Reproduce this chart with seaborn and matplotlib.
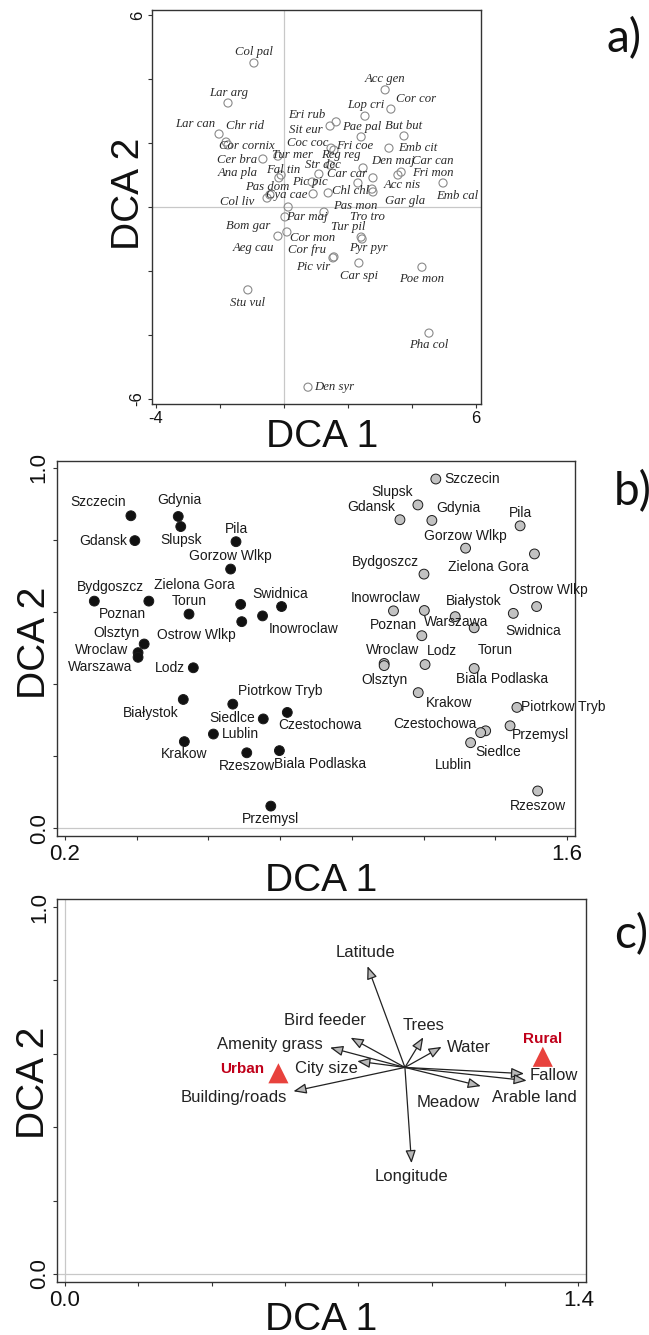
"""
DCA ordination figure: a) bird species, b) urban / rural city plots, c) habitat vectors
"""

import matplotlib
matplotlib.use("Agg")
import numpy as np
import pandas as pd
import matplotlib.pyplot as plt
import seaborn as sns

# ---------------------------------------------------------------
# a) species scores
# ---------------------------------------------------------------
SPECIES = ["Col pal", "Lar arg", "Lar can", "Chr rid", "Cor cornix", "Cer bra", "Tur mer",
           "Ana pla", "Fal tin", "Pas dom", "Col liv", "Cya cae", "Pic pic", "Eri rub",
           "Sit eur", "Coc coc", "Fri coe", "Reg reg", "Str dec", "Car car", "Chl chl",
           "Pae pal", "Lop cri", "Acc gen", "Cor cor", "But but", "Emb cit", "Den maj",
           "Car can", "Fri mon", "Acc nis", "Emb cal", "Gar gla", "Pas mon", "Tro tro",
           "Par maj", "Tur pil", "Bom gar", "Cor mon", "Aeg cau", "Cor fru", "Pyr pyr",
           "Pic vir", "Car spi", "Poe mon", "Pha col", "Stu vul", "Den syr"]
SPECIES_DCA1 = [-0.94, -1.75, -2.03, -1.81, -1.75, -0.66, -0.19,
                -0.16, -0.09, -0.44, -0.53, 0.91, 0.88, 1.63,
                1.44, 1.47, 1.56, 1.44, 1.09, 2.78, 2.75,
                2.41, 2.53, 3.16, 3.34, 3.75, 3.28, 2.47,
                3.66, 3.56, 2.31, 4.97, 2.78, 1.38, 1.25,
                0.13, 2.41, 0.03, 0.09, -0.19, 1.56, 2.44,
                1.53, 2.34, 4.31, 4.53, -1.13, 0.75]
SPECIES_DCA2 = [4.50, 3.25, 2.28, 2.03, 1.94, 1.50, 1.59,
                0.91, 1.00, 0.38, 0.28, 0.41, 0.78, 2.66,
                2.53, 1.84, 1.78, 1.31, 1.03, 0.91, 0.56,
                2.19, 2.84, 3.66, 3.06, 2.22, 1.84, 1.22,
                1.09, 1.00, 0.75, 0.75, 0.47, 0.44, -0.16,
                0.00, -0.94, -0.31, -0.78, -0.91, -1.56, -1.00,
                -1.59, -1.75, -1.88, -3.94, -2.59, -5.63]

# ---------------------------------------------------------------
# b) city plots (urban = black, rural = grey)
# ---------------------------------------------------------------
URBAN_CITIES = ["Szczecin", "Gdynia", "Slupsk", "Gdansk", "Pila", "Gorzow Wlkp", "Bydgoszcz",
                "Poznan", "Zielona Gora", "Torun", "Swidnica", "Inowroclaw", "Ostrow Wlkp",
                "Olsztyn", "Wroclaw", "Warszawa", "Lodz", "Białystok", "Piotrkow Tryb",
                "Czestochowa", "Siedlce", "Lublin", "Krakow", "Rzeszow", "Biala Podlaska",
                "Przemysl"]
URBAN_DCA1 = [0.384, 0.516, 0.523, 0.395, 0.677, 0.662, 0.282,
              0.434, 0.690, 0.546, 0.804, 0.751, 0.693,
              0.421, 0.404, 0.404, 0.558, 0.530, 0.668,
              0.820, 0.753, 0.614, 0.533, 0.707, 0.798,
              0.774]
URBAN_DCA2 = [0.867, 0.865, 0.837, 0.798, 0.795, 0.719, 0.630,
              0.630, 0.621, 0.594, 0.615, 0.589, 0.573,
              0.511, 0.487, 0.474, 0.445, 0.357, 0.344,
              0.321, 0.303, 0.261, 0.240, 0.209, 0.215,
              0.061]

RURAL_CITIES = ["Szczecin", "Slupsk", "Gdansk", "Gdynia", "Pila", "Gorzow Wlkp", "Zielona Gora",
                "Bydgoszcz", "Ostrow Wlkp", "Swidnica", "Inowroclaw", "Warszawa", "Białystok",
                "Torun", "Poznan", "Wroclaw", "Olsztyn", "Lodz", "Biala Podlaska", "Krakow",
                "Piotrkow Tryb", "Przemysl", "Czestochowa", "Lublin", "Siedlce", "Rzeszow"]
RURAL_DCA1 = [1.234, 1.184, 1.134, 1.223, 1.469, 1.317, 1.509,
              1.201, 1.515, 1.450, 1.116, 1.202, 1.288,
              1.341, 1.195, 1.090, 1.090, 1.204, 1.341, 1.185,
              1.460, 1.441, 1.373, 1.359, 1.331, 1.518]
RURAL_DCA2 = [0.969, 0.897, 0.856, 0.854, 0.839, 0.777, 0.761,
              0.705, 0.615, 0.596, 0.603, 0.604, 0.587,
              0.556, 0.534, 0.457, 0.451, 0.454, 0.443, 0.376,
              0.335, 0.284, 0.270, 0.265, 0.237, 0.103]

# ---------------------------------------------------------------
# c) environmental vectors and group centroids
# ---------------------------------------------------------------
ENV_VARS = ["Latitude", "Bird feeder", "Amenity grass", "City size", "Building/roads",
            "Trees", "Water", "Fallow", "Arable land", "Meadow", "Longitude"]
ENV_DCA1 = [0.825, 0.779, 0.723, 0.797, 0.623, 0.977, 1.027, 1.252, 1.259, 1.134, 0.945]
ENV_DCA2 = [0.839, 0.644, 0.617, 0.580, 0.498, 0.645, 0.619, 0.546, 0.527, 0.512, 0.302]
ENV_ORIGIN = (0.927, 0.563)

GROUPS = ["Urban", "Rural"]
GROUP_DCA1 = [0.582, 1.303]
GROUP_DCA2 = [0.547, 0.592]


# label placement (pixel offsets from the point, y up)
A_LABEL_OFFSET = {
    "Col pal": (0, 11), "Lar arg": (1, 10), "Lar can": (-24, 10), "Chr rid": (19, 16),
    "Cor cornix": (19, -1), "Cer bra": (-26, -1), "Tur mer": (15, 1), "Ana pla": (-41, 5),
    "Fal tin": (2, 5), "Pas dom": (-3, 8), "Col liv": (-30, -4), "Cya cae": (-26, -1),
    "Pic pic": (-2, 0), "Eri rub": (-29, 7), "Sit eur": (-24, -4), "Coc coc": (-23, 5),
    "Fri coe": (21, 4), "Reg reg": (11, 10), "Str dec": (4, 9), "Car car": (-26, 4),
    "Chl chl": (-21, -2), "Pae pal": (1, 10), "Lop cri": (1, 11), "Acc gen": (0, 11),
    "Cor cor": (25, 10), "But but": (0, 10), "Emb cit": (29, 0), "Den maj": (30, 7),
    "Car can": (32, 11), "Fri mon": (35, 2), "Acc nis": (44, -2), "Emb cal": (14, -13),
    "Gar gla": (32, -9), "Pas mon": (27, -13), "Tro tro": (43, -5), "Par maj": (19, -10),
    "Tur pil": (-13, 10), "Bom gar": (-37, -9), "Cor mon": (26, -6), "Aeg cau": (-25, -12),
    "Cor fru": (-27, 7), "Pyr pyr": (6, -9), "Pic vir": (-20, -9), "Car spi": (0, -13),
    "Poe mon": (0, -12), "Pha col": (0, -12), "Stu vul": (0, -13), "Den syr": (26, 0),
}
B_LABEL_OFFSET = {
    ("Urban", "Szczecin"): (-33, 14), ("Urban", "Gdynia"): (1, 16), ("Urban", "Slupsk"): (0, -13),
    ("Urban", "Gdansk"): (-32, 0), ("Urban", "Pila"): (0, 13), ("Urban", "Gorzow Wlkp"): (0, 13),
    ("Urban", "Bydgoszcz"): (16, 14), ("Urban", "Poznan"): (-26, -13),
    ("Urban", "Zielona Gora"): (-46, 19), ("Urban", "Torun"): (0, 13),
    ("Urban", "Swidnica"): (-1, 13), ("Urban", "Inowroclaw"): (41, -13),
    ("Urban", "Ostrow Wlkp"): (-45, -13), ("Urban", "Olsztyn"): (-28, 11),
    ("Urban", "Wroclaw"): (-37, 3), ("Urban", "Warszawa"): (-38, -10), ("Urban", "Lodz"): (-23, 0),
    ("Urban", "Białystok"): (-33, -14), ("Urban", "Piotrkow Tryb"): (47, 13),
    ("Urban", "Czestochowa"): (33, -13), ("Urban", "Siedlce"): (-31, 1), ("Urban", "Lublin"): (27, 0),
    ("Urban", "Krakow"): (0, -12), ("Urban", "Rzeszow"): (0, -13),
    ("Urban", "Biala Podlaska"): (41, -13), ("Urban", "Przemysl"): (0, -13),
    ("Rural", "Szczecin"): (36, 0), ("Rural", "Slupsk"): (-26, 13), ("Rural", "Gdansk"): (-29, 13),
    ("Rural", "Gdynia"): (27, 12), ("Rural", "Pila"): (0, 13), ("Rural", "Gorzow Wlkp"): (0, 12),
    ("Rural", "Zielona Gora"): (-46, -13), ("Rural", "Bydgoszcz"): (-39, 12),
    ("Rural", "Ostrow Wlkp"): (12, 17), ("Rural", "Swidnica"): (20, -18),
    ("Rural", "Inowroclaw"): (-8, 13), ("Rural", "Warszawa"): (32, -12),
    ("Rural", "Białystok"): (19, 16), ("Rural", "Torun"): (21, -22), ("Rural", "Poznan"): (-28, 11),
    ("Rural", "Wroclaw"): (8, 13), ("Rural", "Olsztyn"): (0, -14), ("Rural", "Lodz"): (17, 14),
    ("Rural", "Biala Podlaska"): (28, -11), ("Rural", "Krakow"): (31, -10),
    ("Rural", "Piotrkow Tryb"): (46, 0), ("Rural", "Przemysl"): (30, -9),
    ("Rural", "Czestochowa"): (-51, 7), ("Rural", "Lublin"): (-27, -32),
    ("Rural", "Siedlce"): (28, -9), ("Rural", "Rzeszow"): (0, -15),
}
C_LABEL_OFFSET = {
    "Latitude": (-2, 14), "Bird feeder": (-26, 17), "Amenity grass": (-60, 3),
    "City size": (-31, -7), "Building/roads": (-60, -6), "Trees": (0, 12), "Water": (27, -1),
    "Fallow": (30, -2), "Arable land": (8, -17), "Meadow": (-33, -16), "Longitude": (0, -13),
}
C_GROUP_OFFSET = {"Urban": (-36, 4), "Rural": (0, 18)}

W, H = 649, 1335
SPINE = "#333333"
ZERO_LINE = "#c8c8c8"


def ax_rect(left, top, right, bottom):
    """pixel box -> figure fraction rect"""
    return [left / W, 1 - bottom / H, (right - left) / W, (bottom - top) / H]


def style_axes(ax, xticks, xlabels, yticks, ylabels, tick_size, pad_x, pad_y):
    for sp in ax.spines.values():
        sp.set_visible(True)
        sp.set_color(SPINE)
        sp.set_linewidth(1.0)
    ax.set_xticks(xticks, xlabels)
    ax.set_yticks(yticks, ylabels, rotation=90, va="center")
    ax.tick_params(axis="both", direction="out", length=2.8, width=0.8, color=SPINE,
                   labelsize=tick_size, labelcolor="#111111")
    ax.tick_params(axis="x", pad=pad_x, bottom=True)
    ax.tick_params(axis="y", pad=pad_y, left=True)
    ax.grid(False)


def set_dca_labels(ax, xpos, ypos):
    ax.set_xlabel("DCA 1", fontsize=28, va="center", color="#111111")
    ax.set_ylabel("DCA 2", fontsize=28, va="center", color="#111111")
    ax.xaxis.set_label_coords(*xpos)
    ax.yaxis.set_label_coords(*ypos)


sns.set_theme(style="white")
plt.rcParams["font.family"] = ["Liberation Sans", "DejaVu Sans"]

fig = plt.figure(figsize=(W / 100, H / 100), dpi=100)

# ---------------- a) ----------------
ax_a = fig.add_axes(ax_rect(152, 10, 481, 404))
df_a = pd.DataFrame({"species": SPECIES, "DCA1": SPECIES_DCA1, "DCA2": SPECIES_DCA2})
ax_a.axhline(0, color=ZERO_LINE, lw=0.9, zorder=0)
ax_a.axvline(0, color=ZERO_LINE, lw=0.9, zorder=0)
sns.scatterplot(data=df_a, x="DCA1", y="DCA2", s=34, color="#888888", ax=ax_a, legend=False)
pts = ax_a.collections[-1]
pts.set_facecolor("none")
pts.set_edgecolor("#8a8a8a")
pts.set_linewidth(0.8)
for _, r in df_a.iterrows():
    ax_a.annotate(r["species"], (r["DCA1"], r["DCA2"]), xytext=A_LABEL_OFFSET[r["species"]],
                  textcoords="offset pixels", ha="center", va="center", fontsize=9.2,
                  family=["Liberation Serif", "DejaVu Serif"], style="italic", color="#2a2a2a")
ax_a.set_xlim(-4.125, 6.156)
ax_a.set_ylim(-6.156, 6.156)
style_axes(ax_a, [-4, -2, 0, 2, 4, 6], ["-4", "", "", "", "", "6"],
           [-6, -4, -2, 0, 2, 4, 6], ["-6", "", "", "", "", "", "6"], 12, 2.5, 2.5)
set_dca_labels(ax_a, (0.516, -0.083), (-0.070, 0.534))

# ---------------- b) ----------------
ax_b = fig.add_axes(ax_rect(57, 461, 575, 836))
df_b = pd.concat([
    pd.DataFrame({"site": "Urban", "city": URBAN_CITIES, "DCA1": URBAN_DCA1, "DCA2": URBAN_DCA2}),
    pd.DataFrame({"site": "Rural", "city": RURAL_CITIES, "DCA1": RURAL_DCA1, "DCA2": RURAL_DCA2}),
], ignore_index=True)
ax_b.axhline(0, color=ZERO_LINE, lw=0.9, zorder=0)
sns.scatterplot(data=df_b, x="DCA1", y="DCA2", hue="site",
                palette={"Urban": "#111111", "Rural": "#c2c2c2"},
                edgecolor="#1a1a1a", linewidth=0.7, s=50, legend=False, ax=ax_b, zorder=3)
for _, r in df_b.iterrows():
    ax_b.annotate(r["city"], (r["DCA1"], r["DCA2"]), xytext=B_LABEL_OFFSET[(r["site"], r["city"])],
                  textcoords="offset pixels", ha="center", va="center", fontsize=10,
                  color="#1a1a1a")
ax_b.set_xlim(0.178, 1.622)
ax_b.set_ylim(-0.022, 1.019)
style_axes(ax_b, np.round(np.arange(0.2, 1.61, 0.2), 1), ["0.2", "", "", "", "", "", "", "1.6"],
           np.round(np.arange(0.0, 1.01, 0.2), 1), ["0.0", "", "", "", "", "1.0"], 16, 3, 2.5)
set_dca_labels(ax_b, (0.51, -0.12), (-0.0425, 0.516))

# ---------------- c) ----------------
ax_c = fig.add_axes(ax_rect(57.3, 899, 585.7, 1281.7))
ax_c.axhline(0, color=ZERO_LINE, lw=0.9, zorder=0)
ax_c.axvline(0, color=ZERO_LINE, lw=0.9, zorder=0)
df_env = pd.DataFrame({"var": ENV_VARS, "DCA1": ENV_DCA1, "DCA2": ENV_DCA2})
for _, r in df_env.iterrows():
    ax_c.annotate("", xy=(r["DCA1"], r["DCA2"]), xytext=ENV_ORIGIN,
                  arrowprops=dict(arrowstyle="-|>,head_length=0.65,head_width=0.26",
                                  ec="#222222", fc="#b8b8b8", lw=0.9,
                                  shrinkA=0, shrinkB=0))
    ax_c.annotate(r["var"], (r["DCA1"], r["DCA2"]), xytext=C_LABEL_OFFSET[r["var"]],
                  textcoords="offset pixels", ha="center", va="center", fontsize=12,
                  color="#222222")
df_grp = pd.DataFrame({"group": GROUPS, "DCA1": GROUP_DCA1, "DCA2": GROUP_DCA2})
sns.scatterplot(data=df_grp, x="DCA1", y="DCA2", marker="^", s=210, color="#e8423d",
                edgecolor="none", legend=False, ax=ax_c, zorder=4)
for _, r in df_grp.iterrows():
    ax_c.annotate(r["group"], (r["DCA1"], r["DCA2"]), xytext=C_GROUP_OFFSET[r["group"]],
                  textcoords="offset pixels", ha="center", va="center", fontsize=11,
                  fontweight="bold", color="#c0001a")
ax_c.set_xlim(-0.021, 1.42)
ax_c.set_ylim(-0.021, 1.022)
style_axes(ax_c, np.round(np.arange(0.0, 1.41, 0.2), 1), ["0.0", "", "", "", "", "", "", "1.4"],
           np.round(np.arange(0.0, 1.01, 0.2), 1), ["0.0", "", "", "", "", "1.0"], 16, 3, 2.5)
set_dca_labels(ax_c, (0.5, -0.1), (-0.044, 0.519))

# panel letters
for letter, (px, py) in {"a)": (606, 52), "b)": (614, 505), "c)": (614, 948)}.items():
    fig.text(px / W, 1 - py / H, letter, fontsize=33, ha="left", va="baseline",
             family=["Lato", "DejaVu Sans"], color="#111111")

fig.savefig("out.png", dpi=100)
plt.close(fig)
